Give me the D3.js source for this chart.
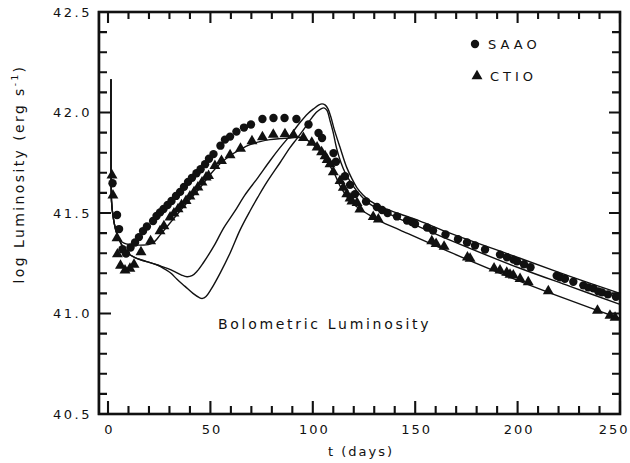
<!DOCTYPE html>
<html><head><meta charset="utf-8">
<script src="https://cdn.jsdelivr.net/npm/d3@7"></script>
<style>
html,body{margin:0;padding:0;background:#fff;}
svg text{font-family:"DejaVu Sans",sans-serif;fill:#111;}
</style></head>
<body>
<svg id="c" width="630" height="463"></svg>
<script>
// ---- data (t in days, log L) ----
const saao = [[2.2,41.648],[4.4,41.49],[5.4,41.42],[7.1,41.32],[8.8,41.298],[11.0,41.328],[13.2,41.353],[15.1,41.38],[17.1,41.41],[19.0,41.433],[22.0,41.46],[23.7,41.485],[25.4,41.503],[27.1,41.52],[29.1,41.54],[31.0,41.56],[33.2,41.585],[35.2,41.605],[37.1,41.63],[39.1,41.655],[41.0,41.675],[43.2,41.698],[45.2,41.718],[47.4,41.743],[49.3,41.77],[51.5,41.793],[54.9,41.835],[57.1,41.865],[59.6,41.88],[62.7,41.905],[66.4,41.925],[69.8,41.94],[75.4,41.968],[80.8,41.973],[86.2,41.973],[92.0,41.968],[97.9,41.94],[102.8,41.898],[104.5,41.873],[110.1,41.798],[111.3,41.755],[115.7,41.683],[118.2,41.64],[120.6,41.594],[126.0,41.557],[131.3,41.53],[133.8,41.515],[136.5,41.5],[141.1,41.483],[146.0,41.463],[148.4,41.455],[149.9,41.445],[155.8,41.428],[158.7,41.413],[164.8,41.393],[170.9,41.37],[175.3,41.353],[179.2,41.338],[184.1,41.318],[191.4,41.293],[194.8,41.28],[198.0,41.268],[199.7,41.26],[203.1,41.245],[206.3,41.23],[219.1,41.188],[220.7,41.18],[223.1,41.173],[227.2,41.158],[232.1,41.14],[234.5,41.13],[237.0,41.125],[239.4,41.11],[241.2,41.105],[244.1,41.095],[248.0,41.083]];
const ctio = [[1.95,41.688],[2.4,41.588],[4.4,41.375],[4.6,41.295],[6.1,41.238],[8.3,41.215],[10.7,41.223],[12.7,41.243],[16.1,41.305],[20.8,41.36],[25.4,41.41],[27.3,41.435],[30.3,41.478],[32.2,41.498],[34.2,41.52],[35.9,41.539],[38.1,41.56],[40.0,41.583],[42.0,41.604],[43.9,41.628],[45.9,41.653],[47.9,41.678],[49.1,41.685],[52.2,41.735],[55.4,41.76],[59.6,41.788],[64.7,41.82],[70.3,41.858],[75.4,41.878],[80.7,41.89],[86.4,41.893],[90.6,41.888],[95.4,41.874],[99.5,41.85],[102.1,41.827],[104.3,41.803],[106.0,41.783],[107.0,41.765],[108.4,41.743],[110.0,41.703],[113.3,41.66],[114.9,41.627],[116.6,41.594],[118.2,41.573],[119.1,41.558],[121.6,41.55],[123.0,41.518],[129.5,41.481],[132.0,41.469],[158.1,41.36],[160.2,41.347],[164.1,41.333],[175.5,41.279],[176.8,41.273],[188.5,41.225],[191.4,41.215],[194.7,41.203],[196.3,41.194],[197.9,41.19],[201.2,41.173],[205.2,41.156],[215.0,41.112],[239.0,41.015],[245.1,40.99],[247.6,40.98]];
// model curves
const modelSpike = [[1.46,42.165],[1.46,41.81],[1.71,41.56],[2.44,41.485],[3.66,41.42],[5.37,41.37]];
const modelC = [[7.81,41.35],[10.74,41.343],[15.63,41.34],[20.51,41.345],[22.95,41.36],[25.39,41.39],[30.27,41.45],[35.16,41.51],[40.04,41.568],[44.92,41.625],[49.8,41.69],[54.69,41.745],[59.57,41.785],[64.45,41.815],[69.34,41.84],[74.22,41.855],[79.1,41.865],[83.98,41.87],[88.87,41.873],[91.8,41.878],[95.2,41.873],[99.1,41.85],[101.6,41.828],[104.0,41.803],[106.4,41.765],[108.4,41.735],[110.8,41.69],[113.3,41.635],[115.7,41.595],[118.2,41.56],[123.0,41.52],[127.9,41.488],[132.8,41.46],[142.6,41.415],[167.0,41.305],[201.2,41.16],[225.6,41.065],[250,40.975]];
const modelEarly = [[7.32,41.33],[9.77,41.3],[13.18,41.278],[16.6,41.265],[20.51,41.253],[24.41,41.24]];
const modelB = [[29.3,41.223],[33.2,41.205],[36.13,41.19],[38.57,41.183],[41.0,41.188],[43.46,41.21],[46.39,41.25],[52.25,41.345],[56.15,41.42],[62.01,41.51],[66.89,41.59],[72.75,41.67],[79.1,41.76],[83.98,41.825],[88.87,41.885],[93.75,41.95],[97.66,41.995],[100.59,42.02],[103.03,42.038],[104.49,42.043],[105.96,42.038],[107.42,42.018],[108.89,41.975],[110.35,41.92],[113.28,41.827],[116.55,41.727],[119.14,41.67],[121.58,41.625],[124.51,41.59],[127.93,41.56],[132.8,41.533],[137.7,41.513],[142.58,41.495],[152.3,41.46],[166.99,41.4],[201.17,41.275],[225.6,41.185],[250,41.1]];
const modelD = [[27.83,41.22],[30.76,41.2],[33.69,41.17],[37.6,41.135],[41.5,41.1],[44.43,41.08],[46.14,41.075],[47.85,41.085],[50.29,41.12],[54.69,41.2],[59.57,41.3],[64.45,41.415],[69.34,41.51],[73.24,41.58],[77.49,41.652],[83.98,41.75],[88.87,41.825],[92.14,41.869],[96.19,41.925],[99.12,41.968],[101.9,42.002],[104.0,42.018],[105.47,42.023],[106.93,42.01],[108.4,41.96],[109.86,41.905],[111.67,41.82],[113.77,41.75],[115.72,41.702],[118.16,41.658],[121.44,41.61],[124.51,41.575],[127.93,41.544],[132.8,41.515],[137.7,41.493],[142.58,41.47],[152.3,41.43],[166.99,41.365],[201.17,41.225],[225.6,41.135],[250,41.045]];
const xMajor = [0,50,100,150,200,250];
const yMajor = [40.5,41.0,41.5,42.0,42.5];

// ---- layout ----
const L = 99, R = 620, T = 12, B = 414;
const svg = d3.select("#c");
const x = d3.scaleLinear().domain([-4.4,250]).range([L,R]);
const y = d3.scaleLinear().domain([40.5,42.5]).range([B,T]);
const xMinor = d3.range(10,250,10).filter(v=>v%50!==0);
const yMinor = [40.6,40.7,40.8,40.9,41.1,41.2,41.3,41.4,41.6,41.7,41.8,41.9,42.1,42.2,42.3,42.4];
const ink = "#111";

// tick labels via d3 axes (no tick lines)
const gx = svg.append("g").attr("transform",`translate(0,${B})`)
  .call(d3.axisBottom(x).tickValues(xMajor).tickSize(0).tickPadding(11).tickFormat(d3.format("d")));
gx.select(".domain").remove();
gx.selectAll("text").attr("font-size",13).attr("letter-spacing","2px").attr("fill",ink).attr("dx","1px")
  .filter(d=>d===250).attr("text-anchor","end").attr("dx","9px");
const gy = svg.append("g").attr("transform",`translate(${L},0)`)
  .call(d3.axisLeft(y).tickValues(yMajor).tickSize(0).tickPadding(7).tickFormat(d3.format(".1f")));
gy.select(".domain").remove();
gy.selectAll("text").attr("font-size",13).attr("letter-spacing","2.5px").attr("fill",ink);

// frame
svg.append("rect").attr("x",L).attr("y",T).attr("width",R-L).attr("height",B-T)
  .attr("fill","none").attr("stroke",ink).attr("stroke-width",2.6);
svg.append("line").attr("x1",L-0.6).attr("x2",L-0.6).attr("y1",T-1).attr("y2",B+1).attr("stroke",ink).attr("stroke-width",1.2);

// inward tick marks
let td = "";
xMajor.forEach(v=>{ const px=x(v); td += `M${px},${B}V${B-13}M${px},${T}V${T+11}`; });
xMinor.forEach(v=>{ const px=x(v); td += `M${px},${B}V${B-8}M${px},${T}V${T+7}`; });
yMajor.forEach(v=>{ const py=y(v); td += `M${L},${py}H${L+12}M${R},${py}H${R-11}`; });
yMinor.forEach(v=>{ const py=y(v); td += `M${L},${py}H${L+8}M${R},${py}H${R-8}`; });
svg.append("path").attr("d",td).attr("fill","none").attr("stroke",ink).attr("stroke-width",2.1);

// model lines
const line = d3.line().x(d=>x(d[0])).y(d=>y(d[1])).curve(d3.curveCatmullRom.alpha(0.5));
[modelSpike.concat(modelC), modelSpike.concat(modelEarly, modelB), modelSpike.concat(modelEarly, modelD)].forEach(p=>{
  svg.append("path").attr("d",line(p)).attr("fill","none").attr("stroke",ink).attr("stroke-width",1.4);
});

// points
svg.append("g").selectAll("circle").data(saao).join("circle")
  .attr("cx",d=>x(d[0])).attr("cy",d=>y(d[1])).attr("r",4.2).attr("fill",ink);
const tri = d3.symbol(d3.symbolTriangle, 52);
svg.append("g").selectAll("path").data(ctio).join("path")
  .attr("d",tri).attr("transform",d=>`translate(${x(d[0])},${y(d[1])})`).attr("fill",ink);

// legend
svg.append("circle").attr("cx",475).attr("cy",44).attr("r",4.2).attr("fill",ink);
svg.append("text").attr("x",488).attr("y",49).attr("font-size",13).attr("letter-spacing","4px").text("SAAO");
svg.append("path").attr("d",tri).attr("transform","translate(477,76)").attr("fill",ink);
svg.append("text").attr("x",490).attr("y",81).attr("font-size",13).attr("letter-spacing","4px").text("CTIO");

// annotations
svg.append("text").attr("x",218).attr("y",329).attr("font-size",14).attr("letter-spacing","2.7px").text("Bolometric Luminosity");
svg.append("text").attr("x",361).attr("y",456).attr("text-anchor","middle").attr("font-size",13).attr("letter-spacing","2px").text("t (days)");
const yt = svg.append("text").attr("transform","translate(24,174) rotate(-90)").attr("text-anchor","middle").attr("font-size",14).attr("letter-spacing","2.4px");
yt.append("tspan").text("log Luminosity (erg s");
yt.append("tspan").attr("font-size",9).attr("dy",-6).text("-1");
yt.append("tspan").attr("dy",6).text(")");
</script>
</body></html>
